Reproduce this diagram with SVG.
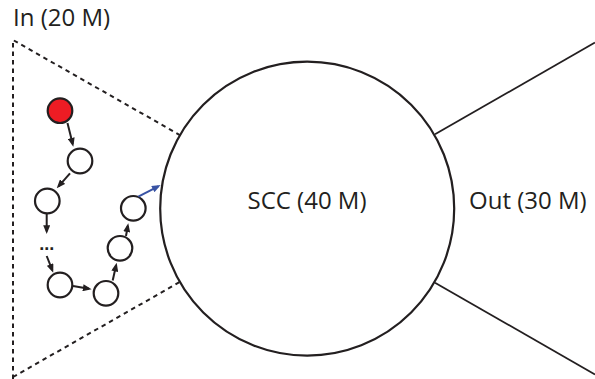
<svg xmlns="http://www.w3.org/2000/svg" width="595" height="379" viewBox="0 0 595 379">
<style>
.lbl{font-family:"Open Sans","Liberation Sans",sans-serif;font-size:24px;fill:#231f20}
.node{fill:#fff;stroke:#231f20;stroke-width:2.2}
.edge{stroke:#231f20;stroke-width:2;fill:none}
.blue{stroke:#3953a4}
.dash{stroke:#231f20;stroke-width:2;stroke-dasharray:4.5 4;fill:none}
.solid{stroke:#231f20;stroke-width:1.8;fill:none}
</style>
<defs>
<marker id="ah" viewBox="0 0 10 8" refX="7" refY="4" markerWidth="9" markerHeight="7" markerUnits="userSpaceOnUse" orient="auto">
<path d="M0,0 L10,4 L0,8 z" fill="#231f20"/>
</marker>
<marker id="ahb" viewBox="0 0 10 8" refX="7" refY="4" markerWidth="9" markerHeight="7" markerUnits="userSpaceOnUse" orient="auto">
<path d="M0,0 L10,4 L0,8 z" fill="#3953a4"/>
</marker>
</defs>
<rect width="595" height="379" fill="#fff"/>
<g id="in">
<path class="dash" d="M13,379 L13,40 L180.5,135.4"/>
<path class="dash" d="M13,377 L180.5,281.6"/>
<text class="lbl" x="13" y="26">In (20 M)</text>
</g>
<g id="out">
<line class="solid" x1="435" y1="134.3" x2="595" y2="42.5"/>
<line class="solid" x1="435" y1="282.7" x2="595" y2="374.5"/>
<text class="lbl" x="469" y="209">Out (30 M)</text>
</g>
<g id="scc">
<circle cx="307.2" cy="208.6" r="147" fill="none" stroke="#231f20" stroke-width="2.2"/>
<text class="lbl" x="307" y="209" text-anchor="middle">SCC (40 M)</text>
</g>
<g id="n1"><circle cx="60" cy="110.7" r="12.3" fill="#ed1c24" stroke="#231f20" stroke-width="2.2"/></g>
<g id="n2"><circle class="node" cx="80" cy="161" r="12.3"/></g>
<g id="n3"><circle class="node" cx="47.3" cy="201" r="12.3"/></g>
<g id="dots"><text x="46.7" y="250" text-anchor="middle" font-family="Liberation Sans, sans-serif" font-size="18" font-weight="bold" fill="#231f20">...</text></g>
<g id="n4"><circle class="node" cx="60" cy="285" r="12.3"/></g>
<g id="n5"><circle class="node" cx="106" cy="293.3" r="12.3"/></g>
<g id="n6"><circle class="node" cx="120" cy="248.3" r="12.3"/></g>
<g id="n7"><circle class="node" cx="133.3" cy="208.3" r="12.3"/></g>
<g id="connectors">
<line class="edge" x1="67.5" y1="123" x2="72.7" y2="144.1" marker-end="url(#ah)"/>
<line class="edge" x1="70" y1="173.3" x2="58.5" y2="186.3" marker-end="url(#ah)"/>
<line class="edge" x1="46.7" y1="214" x2="46.7" y2="231.3" marker-end="url(#ah)"/>
<line class="edge" x1="46.7" y1="256" x2="52.3" y2="270.2" marker-end="url(#ah)"/>
<line class="edge" x1="73" y1="286" x2="89" y2="288.8" marker-end="url(#ah)"/>
<line class="edge" x1="112.7" y1="280.5" x2="116.1" y2="265.3" marker-end="url(#ah)"/>
<line class="edge" x1="126" y1="236" x2="127.8" y2="225.9" marker-end="url(#ah)"/>
<line class="edge blue" x1="138.3" y1="196.7" x2="158.3" y2="186.3" marker-end="url(#ahb)"/>
</g>
</svg>
